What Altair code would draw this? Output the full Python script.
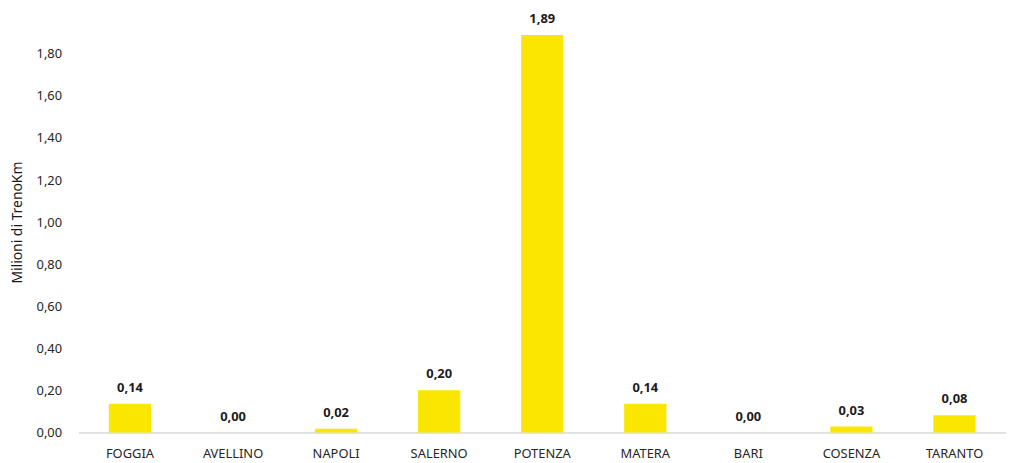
import altair as alt
import pandas as pd

categories = ["FOGGIA", "AVELLINO", "NAPOLI", "SALERNO", "POTENZA",
              "MATERA", "BARI", "COSENZA", "TARANTO"]
values = [0.136, 0.0, 0.018, 0.201, 1.89, 0.136, 0.0, 0.028, 0.082]
y_ticks = [0.0, 0.2, 0.4, 0.6, 0.8, 1.0, 1.2, 1.4, 1.6, 1.8]

df = pd.DataFrame({"cat": categories, "val": values})
df["label"] = [f"{v:.2f}".replace(".", ",") for v in values]

FONT = "Noto Sans"

x = alt.X("cat:N", sort=categories, title=None,
          scale=alt.Scale(paddingInner=0.59, paddingOuter=0.295),
          axis=alt.Axis(labelAngle=0, labelFont=FONT, labelFontSize=13,
                        labelColor="#262626", labelPadding=15,
                        domainColor="#D9D9D9", domainWidth=1.5, ticks=False))
y = alt.Y("val:Q", title="Milioni di TrenoKm",
          scale=alt.Scale(domain=[0, 2.0], nice=False),
          axis=alt.Axis(values=y_ticks, grid=False, domain=False, ticks=False,
                        labelExpr="replace(format(datum.value, '.2f'), '.', ',')",
                        labelFont=FONT, labelFontSize=13, labelColor="#262626",
                        labelPadding=17, titleFont=FONT, titleFontSize=14,
                        titleFontWeight="normal", titleColor="#1a1a1a",
                        titlePadding=12))

bars = alt.Chart(df).mark_bar(color="#FAE600").encode(x=x, y=y)
labels = alt.Chart(df).mark_text(baseline="bottom", dy=-9, font=FONT,
                                 fontSize=13, fontWeight="bold",
                                 color="#1a1a1a").encode(x=x, y=y, text="label:N")

chart = (bars + labels).properties(
    width=935, height=424,
    background="white",
    autosize=alt.AutoSizeParams(type="none"),
    padding={"left": 71, "top": 2, "right": 0, "bottom": 28},
).configure_view(stroke=None, strokeWidth=0)

chart.save("out.html", embed_options={"renderer": "svg", "actions": False})
